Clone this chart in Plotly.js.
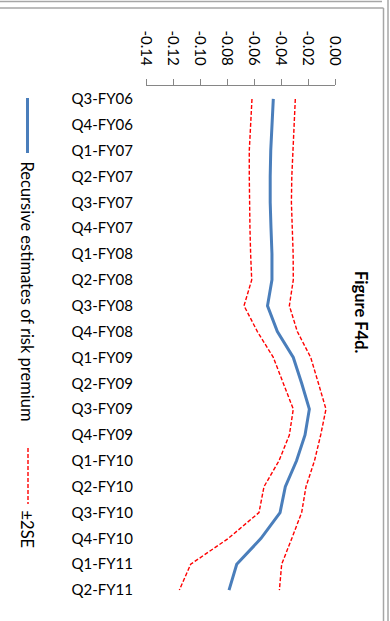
<!DOCTYPE html>
<html>
<head>
<meta charset="utf-8">
<script src="https://cdn.plot.ly/plotly-3.0.1.min.js"></script>
<style>
  html, body { margin: 0; padding: 0; background: #ffffff; }
  #chart { width: 390px; height: 621px; }
</style>
</head>
<body>
<div id="chart"></div>
<script>
// ---- data ----
const categories = ['Q3-FY06','Q4-FY06','Q1-FY07','Q2-FY07','Q3-FY07','Q4-FY07',
                    'Q1-FY08','Q2-FY08','Q3-FY08','Q4-FY08','Q1-FY09','Q2-FY09',
                    'Q3-FY09','Q4-FY09','Q1-FY10','Q2-FY10','Q3-FY10','Q4-FY10',
                    'Q1-FY11','Q2-FY11'];
const riskPremium = [-0.0457,-0.0469,-0.0476,-0.0480,-0.0480,-0.0474,
                     -0.0467,-0.0467,-0.0500,-0.0427,-0.0309,-0.0247,
                     -0.0190,-0.0222,-0.0285,-0.0368,-0.0407,-0.0548,
                     -0.0728,-0.0785];
const upperSE = [-0.0294,-0.0304,-0.0314,-0.0320,-0.0323,-0.0316,
                 -0.0310,-0.0309,-0.0338,-0.0279,-0.0180,-0.0123,
                 -0.0067,-0.0106,-0.0152,-0.0215,-0.0247,-0.0320,
                 -0.0395,-0.0412];
const lowerSE = [-0.0615,-0.0625,-0.0635,-0.0635,-0.0635,-0.0630,
                 -0.0625,-0.0617,-0.0674,-0.0575,-0.0457,-0.0383,
                 -0.0309,-0.0338,-0.0415,-0.0526,-0.0563,-0.0790,
                 -0.1069,-0.1153];
const valueTicks = [-0.14,-0.12,-0.10,-0.08,-0.06,-0.04,-0.02,0.00];
const valueTickText = ['-0.14','-0.12','-0.10','-0.08','-0.06','-0.04','-0.02','0.00'];
const seriesNames = ['Recursive estimates of risk premium', '\u00b12SE'];
const chartTitle = 'Figure F4d.';

// ---- layout helpers (pixel -> paper) ----
const W = 390, H = 621;
const M = { l: 146, r: 55, t: 86, b: 18 };
const PW = W - M.l - M.r, PH = H - M.t - M.b;
const px = v => (v - M.l) / PW;
const py = v => (H - M.b - v) / PH;

const FONT = 'Lato, "Open Sans", "Liberation Sans", sans-serif';
const BLUE = '#4a7ebb';
const RED = '#ff0000';
const GREY = '#868686';
const FRAME = '#a6a6a6';

const traces = [
  { x: riskPremium, y: categories, type: 'scatter', mode: 'lines',
    line: { color: BLUE, width: 3 }, name: seriesNames[0], showlegend: false,
    xaxis: 'x', yaxis: 'y' },
  { x: upperSE, y: categories, type: 'scatter', mode: 'lines',
    line: { color: RED, width: 1.4, dash: '4px,2px' }, name: seriesNames[1], showlegend: false },
  { x: lowerSE, y: categories, type: 'scatter', mode: 'lines',
    line: { color: RED, width: 1.4, dash: '4px,2px' }, name: seriesNames[1], showlegend: false }
];

// band edges for the category axis (ticks between categories)
const catRange = [categories.length - 0.5, -0.5];
const boundaryTicks = [];
for (let i = 0; i <= categories.length; i++) boundaryTicks.push(i - 0.5);

const layout = {
  width: W, height: H,
  margin: M,
  paper_bgcolor: '#ffffff', plot_bgcolor: '#ffffff',
  font: { family: FONT, size: 14, color: '#000000' },
  showlegend: false,
  xaxis: {
    side: 'top', range: [-0.14, 0], fixedrange: true, automargin: false,
    tickmode: 'array', tickvals: valueTicks, ticktext: valueTickText,
    tickangle: 90, ticks: 'outside', ticklen: 6, tickcolor: GREY, tickwidth: 1,
    ticklabelstandoff: 8,
    showline: true, linecolor: GREY, linewidth: 1,
    showgrid: false, zeroline: false,
    tickfont: { family: FONT, size: 15, color: '#000000' }
  },
  yaxis: {
    type: 'category', categoryarray: categories, range: catRange, automargin: false,
    showline: false, ticks: '', showgrid: false, zeroline: false,
    ticklabelstandoff: 12,
    tickfont: { family: FONT, size: 15, color: '#000000' }
  },
  yaxis2: {
    overlaying: 'y', side: 'right', anchor: 'x', type: 'linear', automargin: false,
    range: catRange,
    tickmode: 'array', tickvals: boundaryTicks,
    ticks: 'inside', ticklen: 6, tickcolor: GREY, tickwidth: 1,
    showticklabels: false, showline: true, linecolor: GREY, linewidth: 1,
    showgrid: false, zeroline: false
  },
  shapes: [
    // legend samples
    { type: 'line', xref: 'paper', yref: 'paper', x0: px(27.5), x1: px(27.5), y0: py(98), y1: py(153),
      line: { color: BLUE, width: 3 } },
    { type: 'line', xref: 'paper', yref: 'paper', x0: px(28), x1: px(28), y0: py(448), y1: py(504),
      line: { color: RED, width: 1.4, dash: '4px,2px' } },
    // outer frame lines
    { type: 'line', xref: 'paper', yref: 'paper', x0: px(0), x1: px(382), y0: py(1.5), y1: py(1.5),
      line: { color: FRAME, width: 1.5 } },
    { type: 'line', xref: 'paper', yref: 'paper', x0: px(0), x1: px(383.5), y0: py(8), y1: py(8),
      line: { color: FRAME, width: 1.5 } },
    { type: 'line', xref: 'paper', yref: 'paper', x0: px(383.5), x1: px(383.5), y0: py(8), y1: py(621),
      line: { color: FRAME, width: 1.5 } },
    { type: 'line', xref: 'paper', yref: 'paper', x0: px(388), x1: px(388), y0: py(0), y1: py(621),
      line: { color: FRAME, width: 1.5 } }
  ],
  annotations: [
    { text: '<b>' + chartTitle + '</b>', xref: 'paper', yref: 'paper', x: px(361), y: py(312),
      textangle: 90, showarrow: false, xanchor: 'center', yanchor: 'middle',
      font: { family: FONT, size: 16.5, color: '#000000' } },
    { text: seriesNames[0], xref: 'paper', yref: 'paper', x: px(27), y: py(291.5),
      textangle: 90, showarrow: false, xanchor: 'center', yanchor: 'middle',
      font: { family: FONT, size: 16.5, color: '#000000' } },
    { text: seriesNames[1], xref: 'paper', yref: 'paper', x: px(27), y: py(529.5),
      textangle: 90, showarrow: false, xanchor: 'center', yanchor: 'middle',
      font: { family: FONT, size: 16.5, color: '#000000' } }
  ]
};

Plotly.newPlot('chart', traces, layout, { staticPlot: true, displayModeBar: false });
</script>
</body>
</html>
